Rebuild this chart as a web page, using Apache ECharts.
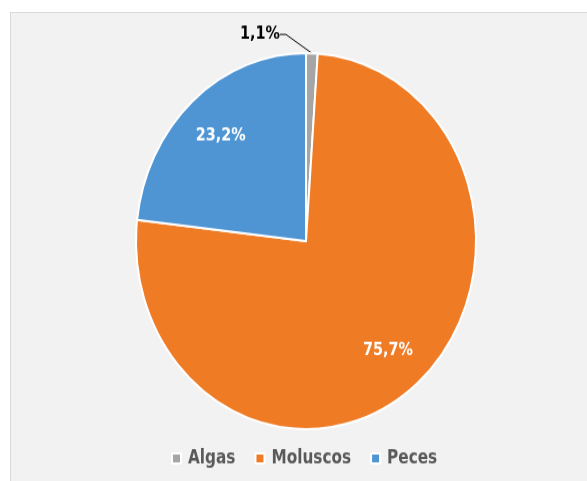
<!DOCTYPE html>
<html>
<head>
<meta charset="utf-8">
<script src="https://cdn.jsdelivr.net/npm/echarts@6/dist/echarts.min.js"></script>
<style>
  html, body { margin: 0; padding: 0; background: #ffffff; width: 587px; height: 481px; overflow: hidden; }
  #frame { position: absolute; left: 10px; top: 12px; width: 620px; height: 520px; background: #f2f2f2; border: 1px solid #d9d9d9; box-sizing: border-box; }
  #chart { position: absolute; left: 0; top: 0; width: 587px; height: 435px; transform: scaleY(1.106); transform-origin: 0 0; }
</style>
</head>
<body>
<div id="frame"></div>
<div id="chart"></div>
<script>
const categories = ['Algas', 'Moluscos', 'Peces'];
const values = [1.1, 75.7, 23.2];
const labels = ['1,1%', '75,7%', '23,2%'];
const colors = ['#a5a5a5', '#f07b25', '#4f95d3'];

const FONT = "'Liberation Sans Narrow', 'Arial Narrow', 'DejaVu Sans Condensed', sans-serif";

const mainData = categories.map((c, i) => ({
  name: c,
  value: values[i],
  itemStyle: { color: colors[i] },
  label: i === 0 ? {
    show: true, position: 'outside', formatter: labels[i],
    color: '#000', fontWeight: 'bold', fontSize: 16, fontFamily: FONT,
    padding: [0, 2, 22, 0]
  } : { show: false },
  labelLine: { show: i === 0, lineStyle: { color: '#000', width: 1 } }
}));

const labelData = categories.map((c, i) => ({
  name: c,
  value: values[i],
  itemStyle: { color: 'rgba(0,0,0,0)', borderWidth: 0 },
  label: i === 0 ? { show: false } : {
    show: true, position: 'inner', formatter: labels[i],
    color: '#fff', fontWeight: 'bold', fontSize: 16, fontFamily: FONT
  }
}));

const chart = echarts.init(document.getElementById('chart'), null, { renderer: 'canvas' });
chart.setOption({
  backgroundColor: 'transparent',
  animation: false,
  legend: {
    data: categories,
    left: 166,
    top: 401,
    icon: 'rect',
    itemWidth: 9,
    itemHeight: 9,
    itemGap: 19,
    textStyle: { color: '#595959', fontSize: 17, fontWeight: 'bold', fontFamily: FONT, padding: [0, 0, 0, 2] }
  },
  series: [
    {
      type: 'pie',
      center: [306, 218],
      radius: [0, 170],
      startAngle: 90,
      clockwise: true,
      itemStyle: { borderColor: '#ffffff', borderWidth: 2 },
      emphasis: { disabled: true },
      labelLine: { length: 10, length2: 6 },
      labelLayout: function (p) {
        if (p.dataIndex !== 0 || !p.labelLinePoints) return {};
        const pt = p.labelLinePoints[0];
        return { x: pt[0] - 30, y: pt[1] - 17, align: 'right', verticalAlign: 'middle' };
      },
      data: mainData
    },
    {
      type: 'pie',
      center: [306, 218],
      radius: [80, 170],
      startAngle: 90,
      clockwise: true,
      silent: true,
      legendHoverLink: false,
      emphasis: { disabled: true },
      labelLine: { show: false },
      data: labelData
    }
  ]
});
</script>
</body>
</html>
